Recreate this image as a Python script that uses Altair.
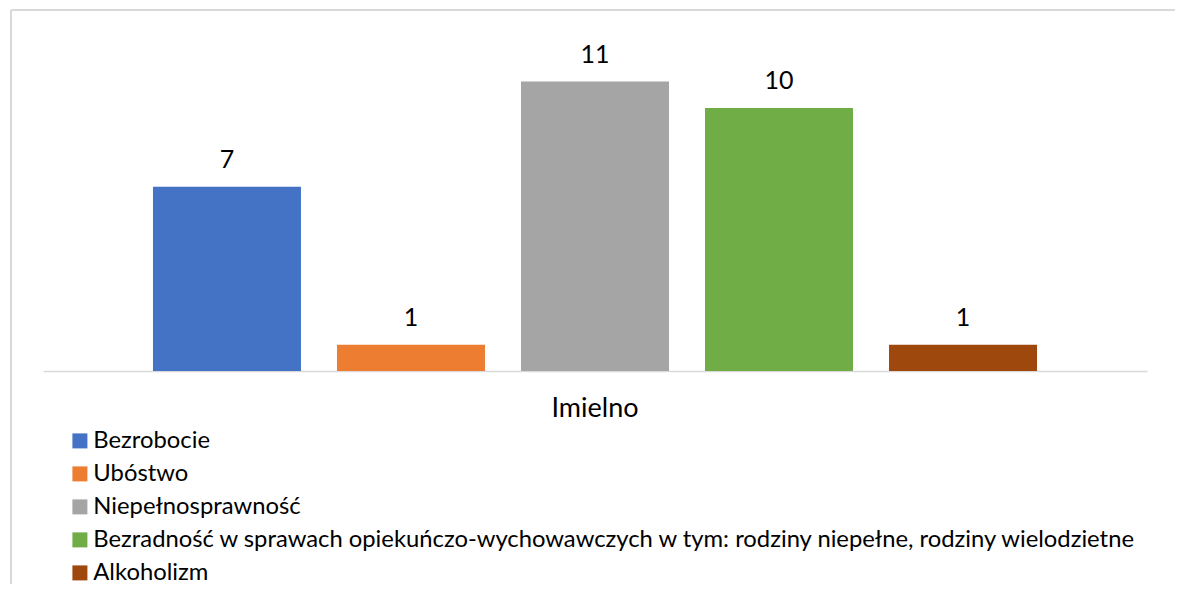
import altair as alt
import pandas as pd

categories = ["Imielno"]
series = [
    "Bezrobocie",
    "Ubóstwo",
    "Niepełnosprawność",
    "Bezradność w sprawach opiekuńczo-wychowawczych w tym: rodziny niepełne, rodziny wielodzietne",
    "Alkoholizm",
]
values = [7, 1, 11, 10, 1]
colors = ["#4472C4", "#ED7D31", "#A5A5A5", "#70AD47", "#9E480E"]

df = pd.DataFrame({"category": categories * len(series), "series": series, "value": values})

FONT = "Lato"
W, H = 1104, 342

x_enc = alt.X("category:N", title=None,
              scale=alt.Scale(paddingOuter=0.1244, paddingInner=0),
              axis=alt.Axis(domainColor="#d9d9d9", domainWidth=1.5, ticks=False,
                            labelFont=FONT, labelFontSize=27, labelColor="#000000",
                            labelBaseline="alphabetic", labelPadding=45, labelAngle=0))
xo_enc = alt.XOffset("series:N", sort=series,
                     scale=alt.Scale(paddingInner=0.1957, paddingOuter=0))
y_enc = alt.Y("value:Q", scale=alt.Scale(domain=[0, 13]), axis=None)

bars = alt.Chart(df).mark_bar().encode(
    x=x_enc, xOffset=xo_enc, y=y_enc,
    color=alt.Color("series:N", sort=series,
                    scale=alt.Scale(domain=series, range=colors),
                    legend=alt.Legend(title=None, orient="none", legendX=25, legendY=400,
                                      symbolType="square", symbolSize=225,
                                      symbolStrokeWidth=0, symbolOpacity=1,
                                      labelFont=FONT, labelFontSize=23.8, labelColor="#000000",
                                      labelOffset=1.5, rowPadding=8, labelLimit=2000,
                                      padding=0)),
)

labels = alt.Chart(df).mark_text(font=FONT, fontSize=25, color="#000000",
                                 baseline="alphabetic", dy=-19).encode(
    x=x_enc, xOffset=xo_enc, y=y_enc, text=alt.Text("value:Q"),
)

border_top = alt.Chart(df).mark_rule(color="#d9d9d9", strokeWidth=2).encode(
    x=alt.value(-32), x2=alt.value(W + 28), y=alt.value(-19))
border_left = alt.Chart(df).mark_rule(color="#d9d9d9", strokeWidth=2).encode(
    x=alt.value(-32), y=alt.value(-19), y2=alt.value(H + 213))

chart = alt.layer(border_top, border_left, bars, labels).properties(
    width=W, height=H,
    autosize=alt.AutoSizeParams(type="none"),
    padding={"left": 35, "top": 21, "right": 28, "bottom": 213},
).configure_view(stroke=None)

chart.save("out.html", embed_options={"renderer": "svg", "actions": False})
